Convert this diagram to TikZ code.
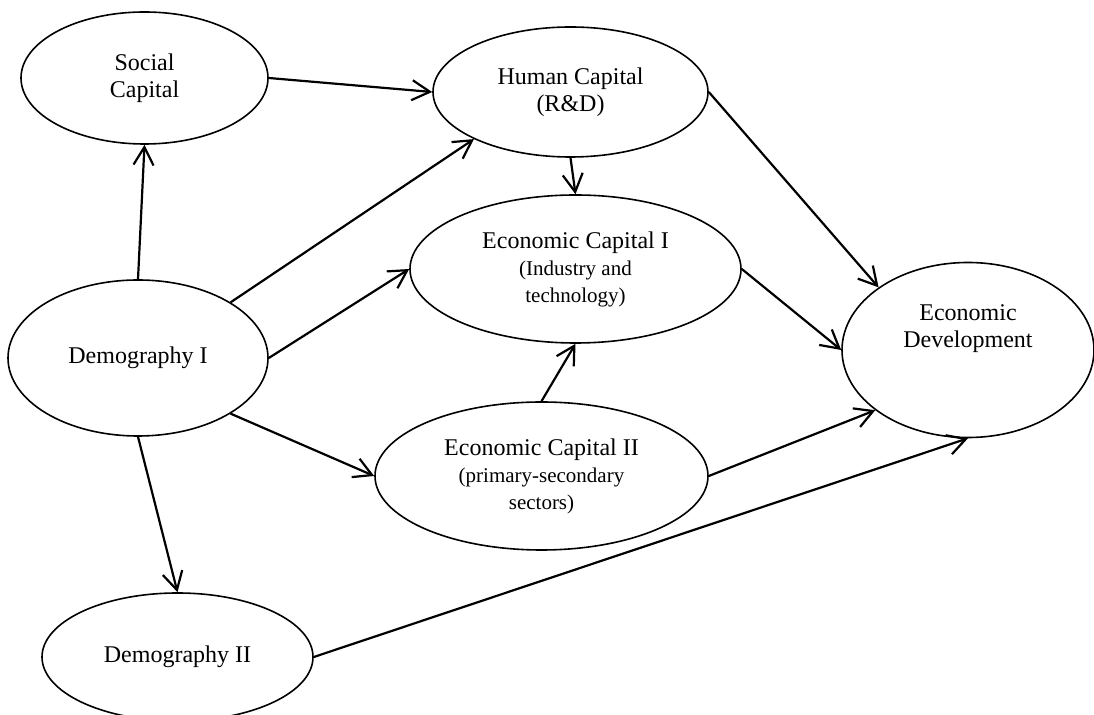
\documentclass[tikz,border=0pt]{standalone}
\usepackage{fontspec}
\setmainfont{Liberation Serif}
\usetikzlibrary{shapes.geometric,arrows.meta}
\newcommand{\subsize}{\fontsize{10.5}{12}\selectfont}

\begin{document}
\begin{tikzpicture}[
    x=0.5pt, y=-0.5pt,
    factor/.style={ellipse, draw=black, line width=0.8pt, inner sep=0pt, align=center, font=\fontsize{12}{13.5}\selectfont},
    arrow/.style={-{Straight Barb[length=9pt,width=10pt]}, line width=1.1pt}
]
\useasboundingbox (0,0) rectangle (1094,715);

% Nodes
\node[factor, minimum width=123.5pt, minimum height=66pt] (social) at (144.5,78) {Social\\Capital};
\node[factor, minimum width=137.5pt, minimum height=65pt] (human) at (570.5,92) {Human Capital\\(R\&D)};
\node[factor, minimum width=130pt, minimum height=78pt] (demo1) at (138,358) {Demography I};
\node[factor, minimum width=165.5pt, minimum height=74pt] (ecoI) at (575.5,269) {Economic Capital I\\ \subsize (Industry and\\ \subsize technology)};
\node[factor, minimum width=166.5pt, minimum height=74pt] (ecoII) at (541.5,476) {Economic Capital II\\ \subsize (primary-secondary\\ \subsize sectors)};
\node[factor, minimum width=126pt, minimum height=87.5pt] (ecodev) at (968,350) {Economic\\Development\\[10pt]\mbox{}};
\node[factor, minimum width=135.5pt, minimum height=64pt] (demo2) at (177.5,657) {Demography II};

% Arrows
\draw[arrow] (social.east) -- (human.west);
\draw[arrow] (demo1.north) -- (social.south);
\draw[arrow] (demo1.31) -- (human.206);
\draw[arrow] (demo1.east) -- (ecoI.west);
\draw[arrow] (demo1.-31) -- (ecoII.west);
\draw[arrow] (demo1.south) -- (demo2.north);
\draw[arrow] (human.south) -- (ecoI.north);
\draw[arrow] (human.east) -- (ecodev.145);
\draw[arrow] (ecoI.east) -- (ecodev.west);
\draw[arrow] (ecoII.north) -- (ecoI.south);
\draw[arrow] (ecoII.east) -- (ecodev.213);
\draw[arrow] (demo2.east) -- (ecodev.south);

\end{tikzpicture}
\end{document}
